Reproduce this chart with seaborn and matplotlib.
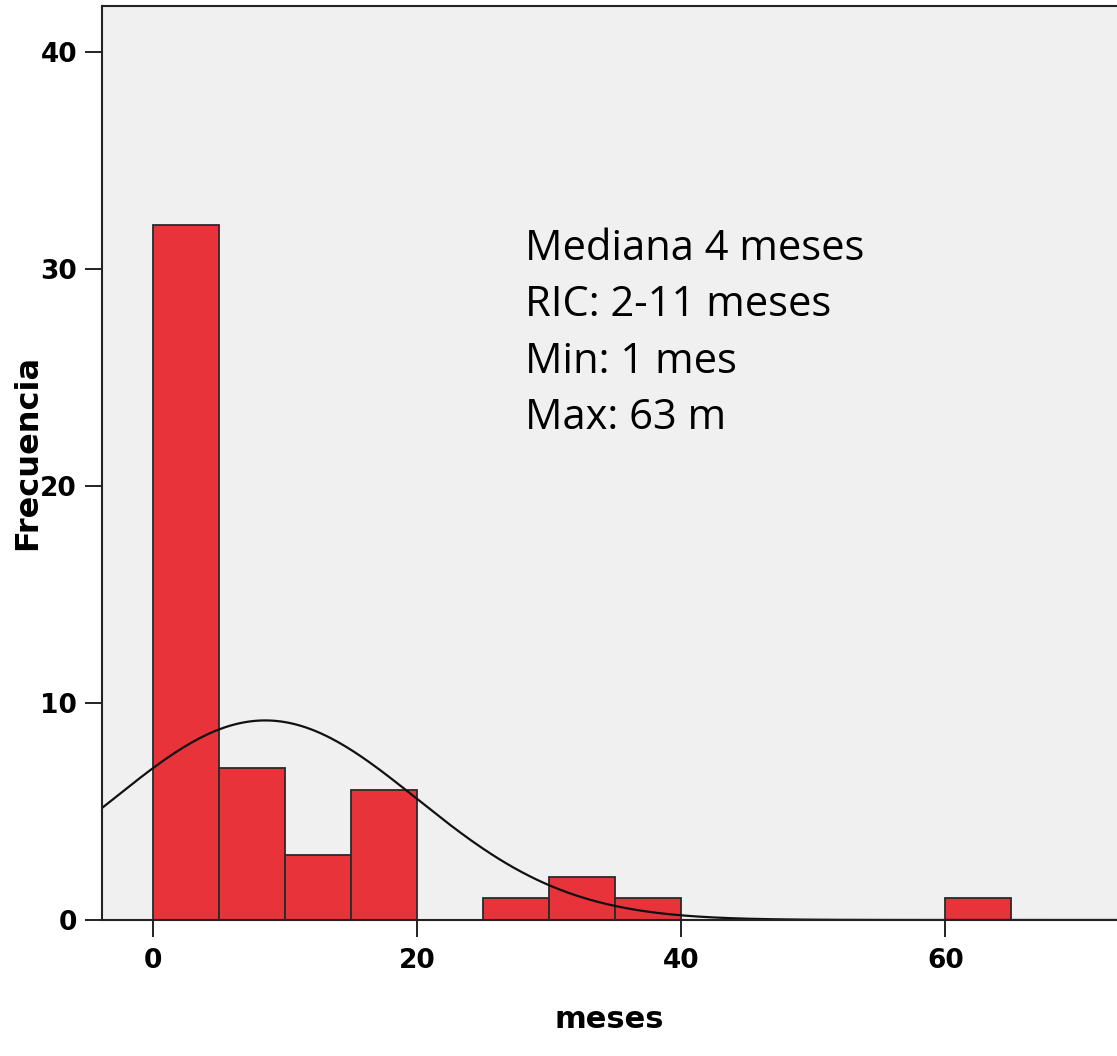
import numpy as np
import pandas as pd
import matplotlib
matplotlib.use("Agg")
import matplotlib.pyplot as plt
import seaborn as sns

# Data
bin_edges = [0, 5, 10, 15, 20, 25, 30, 35, 40, 45, 50, 55, 60, 65]
bin_counts = [32, 7, 3, 6, 0, 1, 2, 1, 0, 0, 0, 0, 1]
curve_mean = 8.5
curve_sd = 11.5
n_total = sum(bin_counts)
x_ticks = [0, 20, 40, 60]
y_ticks = [0, 10, 20, 30, 40]
annotation_lines = ["Mediana 4 meses", "RIC: 2-11 meses", "Min: 1 mes", "Max: 63 m"]

sns.set_style("white")
plt.rcParams['font.family'] = ['DejaVu Sans']

fig = plt.figure(figsize=(11.17, 10.56), dpi=100)
ax = fig.add_axes([102 / 1117, 1 - 920 / 1056, 1 - 102 / 1117, (920 - 6) / 1056])
ax.set_facecolor("#F0F0F0")

centers = [(bin_edges[i] + bin_edges[i + 1]) / 2 for i in range(len(bin_counts))]
df = pd.DataFrame({"meses": centers, "n": bin_counts})
sns.histplot(data=df, x="meses", weights="n", bins=bin_edges, ax=ax,
             color="#E8333A", alpha=1.0, edgecolor="#2a2a2a", linewidth=1.3)

xmin, xmax = -3.86, 73.0
xs = np.linspace(xmin, xmax, 400)
binw = bin_edges[1] - bin_edges[0]
ys = n_total * binw / (curve_sd * np.sqrt(2 * np.pi)) * np.exp(-0.5 * ((xs - curve_mean) / curve_sd) ** 2)
sns.lineplot(x=xs, y=ys, ax=ax, color="#111111", linewidth=1.6)

ax.set_xlim(xmin, xmax)
ax.set_ylim(0, 42.1)
ax.set_xticks(x_ticks)
ax.set_yticks(y_ticks)
ax.tick_params(axis="both", bottom=True, left=True, direction="out", length=12,
               width=1.4, color="#222222", labelsize=19, labelcolor="#000000", pad=6)
ax.tick_params(axis="x", pad=8)
for lab in ax.get_xticklabels() + ax.get_yticklabels():
    lab.set_fontweight("heavy")

for side in ["left", "bottom", "top"]:
    ax.spines[side].set_visible(True)
    ax.spines[side].set_color("#222222")
    ax.spines[side].set_linewidth(1.5)
ax.spines["right"].set_visible(False)

ax.set_xlabel("meses", fontsize=22, fontweight="heavy", color="#000000")
ax.set_ylabel("Frecuencia", fontsize=23, fontweight="heavy", color="#000000")
ax.xaxis.set_label_coords(0.5, -(1020 - 920) / 914)
ax.yaxis.set_label_coords((28 - 102) / 1015, (920 - 452) / 914)
ax.xaxis.label.set_va("center")
ax.yaxis.label.set_va("center")

ax.text((525 - 102) / (1015), 1 - (228 - 6) / 914, "\n".join(annotation_lines),
        transform=ax.transAxes, ha="left", va="top", fontsize=30,
        family=["Open Sans", "DejaVu Sans"], color="#000000", linespacing=1.45)

fig.savefig("out.png", dpi=100)
